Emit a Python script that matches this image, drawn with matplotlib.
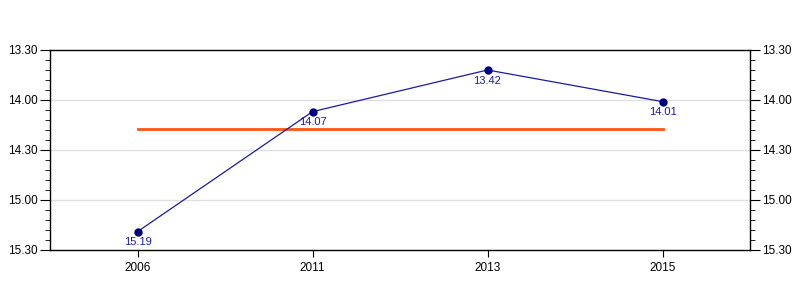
import matplotlib
matplotlib.use("Agg")
import matplotlib.pyplot as plt
from matplotlib.ticker import FixedLocator, FuncFormatter, MultipleLocator

plt.rcParams['font.family'] = ['Liberation Sans', 'DejaVu Sans']

years = ['2006', '2011', '2013', '2015']
times = ['15.19', '14.07', '13.42', '14.01']
y_ticks = ['13.30', '14.00', '14.30', '15.00', '15.30']


def to_sec(s):
    m, ss = s.split('.')
    return int(m) * 60 + int(ss)


def fmt(v, pos=None):
    v = int(round(v))
    return f"{v // 60}.{v % 60:02d}"


secs = [to_sec(t) for t in times]
tick_secs = [to_sec(t) for t in y_ticks]
avg = sum(secs) / len(secs)
x = list(range(len(years)))

fig = plt.figure(figsize=(8, 3), dpi=100)
ax = fig.add_axes([0.0625, 0.1667, 0.875, 0.6667])

ax.set_xlim(-0.5, len(years) - 0.5)
ax.set_ylim(tick_secs[-1], tick_secs[0])

for t in tick_secs[1:-1]:
    ax.axhline(t, color='#e0e0e0', lw=1, zorder=0)

ax.plot([x[0], x[-1]], [avg, avg], color='#ff5511', lw=2, zorder=2)
ax.plot(x, secs, color='#1a1aaa', lw=0.9, zorder=3)
ax.plot(x, secs, 'o', color='#000080', ms=5, zorder=4)

for xi, s, t in zip(x, secs, times):
    ax.annotate(t, (xi, s), xytext=(0, -4), textcoords='offset points',
                ha='center', va='top', fontsize=8, color='#1a1aaa')

ax.set_xticks(x)
ax.set_xticklabels(years, fontsize=8.5)
ax.yaxis.set_major_locator(FixedLocator(tick_secs))
ax.yaxis.set_major_formatter(FuncFormatter(fmt))
ax.yaxis.set_minor_locator(MultipleLocator(6))
ax.tick_params(axis='y', which='both', left=True, right=True,
               labelleft=True, labelright=True, labelsize=8.5)
ax.tick_params(axis='y', which='major', length=7, pad=2)
ax.tick_params(axis='y', which='minor', length=3.5)
ax.tick_params(axis='x', length=5)
for sp in ax.spines.values():
    sp.set_linewidth(1)
    sp.set_color('black')

fig.savefig('out.png', dpi=100)
